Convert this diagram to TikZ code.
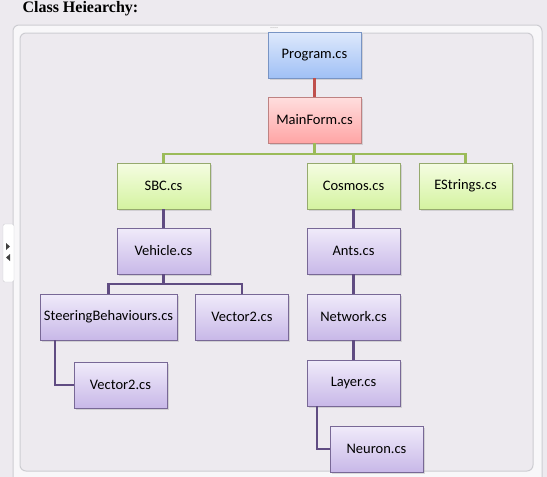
\documentclass[tikz,border=0pt]{standalone}
\usepackage{fontspec}
\setmainfont{Carlito}
\newfontfamily\titlefont{Liberation Serif}
\usetikzlibrary{positioning,shadows}
\definecolor{pagebg}{RGB}{237,234,239}
\definecolor{framegray}{RGB}{205,205,210}
\definecolor{blueT}{RGB}{222,233,252}
\definecolor{blueB}{RGB}{160,192,245}
\definecolor{blueD}{RGB}{120,148,196}
\definecolor{redT}{RGB}{255,222,222}
\definecolor{redB}{RGB}{255,165,165}
\definecolor{redD}{RGB}{190,130,130}
\definecolor{redL}{RGB}{192,80,77}
\definecolor{greenT}{RGB}{245,253,226}
\definecolor{greenB}{RGB}{212,243,160}
\definecolor{greenD}{RGB}{150,170,110}
\definecolor{greenL}{RGB}{155,187,89}
\definecolor{purpT}{RGB}{240,235,250}
\definecolor{purpB}{RGB}{200,184,232}
\definecolor{purpD}{RGB}{120,104,150}
\definecolor{purpL}{RGB}{96,76,130}

\begin{document}
\begin{tikzpicture}
	[x=1pt, y=-1pt, font=\fontsize{14.5}{17}\selectfont,
	cls/.style	= {rectangle, draw, inner sep=0pt, minimum width=93pt, minimum height=46pt,
		drop shadow={shadow xshift=1.5pt, shadow yshift=-1.5pt, opacity=.25}},
	entry/.style	= {cls, draw=blueD, top color=blueT, bottom color=blueB},
	form/.style	= {cls, draw=redD, top color=redT, bottom color=redB},
	top/.style	= {cls, draw=greenD, top color=greenT, bottom color=greenB},
	sub/.style	= {cls, draw=purpD, top color=purpT, bottom color=purpB},
	redlink/.style	= {draw=redL, line width=2.3pt},
	greenlink/.style	= {draw=greenL, line width=2.3pt},
	purplink/.style	= {draw=purpL, line width=2.3pt}]
	
	% page and frame
	\fill [pagebg] (0,0) rectangle (547,477);
	\useasboundingbox (0,0) rectangle (547,477);
	\draw [framegray, fill=white!60!pagebg, rounded corners=6pt, line width=1pt] (13,25) rectangle (542,486);
	\draw [framegray, fill=pagebg, rounded corners=6pt, line width=1pt] (20,33) rectangle (533,471);
	\foreach \i in {0,...,3} \fill [gray!70] (271+2*\i,27.5) circle (0.5pt);
	\draw [framegray, fill=white, rounded corners=2pt] (3,224) rectangle (14,282);
	\fill [black!75] (6,243) -- (10,246.5) -- (6,250) -- cycle;
	\fill [black!75] (10,254) -- (6,257.5) -- (10,261) -- cycle;
	
	\node at (19,9) [anchor=west, font=\titlefont\fontsize{16}{18}\selectfont\bfseries] (title) {Class Heiearchy:};
	
	% connectors first, boxes on top
	\coordinate (busMain) at (314.5, 154);
	\coordinate (busVehicle) at (163.5, 284);
	
	\node at (314.5, 55)	[entry]	(program)	{Program.cs};
	\node at (314.5, 120)	[form]	(mainform)	{MainForm.cs};
	
	\node at (163.5, 186)	[top]	(sbc)		{SBC.cs};
	\node at (353.5, 186)	[top]	(cosmos)	{Cosmos.cs};
	\node at (465.5, 186)	[top]	(estrings)	{EStrings.cs};
	
	\node at (163.5, 251)	[sub]	(vehicle)	{Vehicle.cs};
	\node at (108.5, 317)	[sub, minimum width=137pt]	(steering)	{SteeringBehaviours.cs};
	\node at (242, 317)	[sub]	(vectorA)	{Vector2.cs};
	\node at (120.5, 385)	[sub]	(vectorB)	{Vector2.cs};
	
	\node at (353.5, 251)	[sub]	(ants)		{Ants.cs};
	\node at (353.5, 317)	[sub]	(network)	{Network.cs};
	\node at (353.5, 383)	[sub]	(layer)		{Layer.cs};
	\node at (376.5, 449)	[sub]	(neuron)	{Neuron.cs};
	
	\draw [redlink] (program) -- (mainform);
	
	\draw [greenlink] (mainform.south) -- (busMain);
	\draw [greenlink] (sbc.north) |- (busMain) -| (estrings.north);
	\draw [greenlink] (cosmos.north) -- (cosmos.north |- busMain);
	
	\draw [purplink] (sbc) -- (vehicle);
	\draw [purplink] (vehicle.south) -- (busVehicle);
	\draw [purplink] (steering.north) |- (busVehicle) -| (vectorA.north);
	\draw [purplink] ([xshift=15pt]steering.south west) |- (vectorB.west);
	
	\draw [purplink] (cosmos) -- (ants);
	\draw [purplink] (ants) -- (network);
	\draw [purplink] (network) -- (layer);
	\draw [purplink] ([xshift=10pt]layer.south west) |- (neuron.west);
\end{tikzpicture}
\end{document}
